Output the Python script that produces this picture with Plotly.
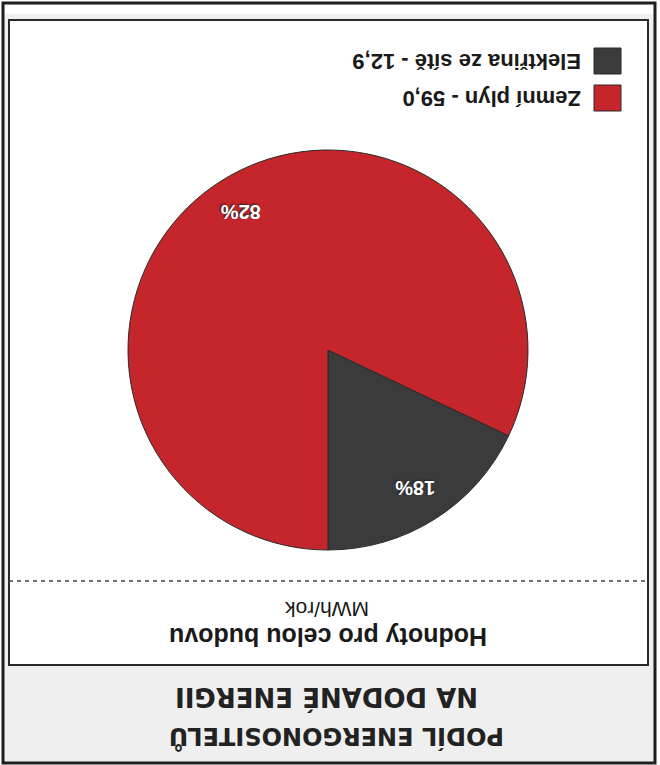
import math
import plotly.graph_objects as go

# ---- data ----
labels = ["Elektřina ze sítě", "Zemní plyn"]
values = [12.9, 59.0]
value_texts = ["12,9", "59,0"]
colors = ["#3b3b3b", "#c4262b"]
title_lines = ["PODÍL ENERGONOSITELŮ", "NA DODANÉ ENERGII"]
subtitle = "Hodnoty pro celou budovu"
unit = "MWh/rok"

W, H = 660, 765


def px(x):
    return x / W


def py(y):
    return 1 - y / H


# pie geometry (pixels) - the whole scanned chart is upside down
cx, cy, R = 328, 350, 200
total = sum(values)
# first slice ends at 6 o'clock going clockwise (i.e. it lies counter-clockwise of 6 o'clock)
start_rot = 180 - 360 * values[0] / total

fig = go.Figure()
fig.add_trace(go.Pie(
    labels=labels,
    values=values,
    marker=dict(colors=colors, line=dict(color="#2a2a2a", width=1)),
    sort=False,
    direction="clockwise",
    rotation=start_rot,
    textinfo="none",
    hoverinfo="label+value+percent",
    showlegend=False,
    domain=dict(x=[px(cx - R), px(cx + R)], y=[py(cy + R), py(cy - R)]),
))

shapes = []
annotations = []

# outer frame and inner box
shapes.append(dict(type="rect", xref="paper", yref="paper",
                   x0=px(3), x1=px(655), y0=py(763), y1=py(3),
                   line=dict(color="#1e1e1e", width=3), fillcolor="#efefef", layer="below"))
shapes.append(dict(type="rect", xref="paper", yref="paper",
                   x0=px(5), x1=px(653), y0=py(14), y1=py(5),
                   line=dict(width=0), fillcolor="#ffffff", layer="below"))
shapes.append(dict(type="rect", xref="paper", yref="paper",
                   x0=px(9), x1=px(648), y0=py(665), y1=py(20),
                   line=dict(color="#2a2a2a", width=2), fillcolor="#ffffff", layer="below"))
# dashed separator
shapes.append(dict(type="line", xref="paper", yref="paper",
                   x0=px(9), x1=px(648), y0=py(581), y1=py(581),
                   line=dict(color="#444444", width=1.5, dash="4px,4px"), layer="below"))

# percentage labels computed from data (angle measured from 6 o'clock towards 3 o'clock)
cum = 0.0
for v in values:
    mid = (cum + v / 2) / total * 2 * math.pi
    cum += v
    lx = cx + 0.82 * R * math.sin(mid)
    ly = cy + 0.82 * R * math.cos(mid)
    annotations.append(dict(
        x=px(lx), y=py(ly), xref="paper", yref="paper",
        text=f"{round(v / total * 100)}%", showarrow=False, textangle=180,
        xanchor="center", yanchor="middle",
        font=dict(family="Liberation Sans, Arial", size=20, color="#ffffff",
                  weight="bold", shadow="1px 1px 2px #222")))

# legend (upside down)
leg_y = [61, 98]
for i, (lab, vt, col) in enumerate(zip(labels, value_texts, colors)):
    yy = leg_y[i]
    shapes.append(dict(type="rect", xref="paper", yref="paper",
                       x0=px(594), x1=px(621), y0=py(yy + 13), y1=py(yy - 13),
                       line=dict(color="#2a2a2a", width=1), fillcolor=col))
    annotations.append(dict(
        x=px(583), y=py(yy), xref="paper", yref="paper",
        text=f"{lab} - {vt}", showarrow=False, textangle=180,
        xanchor="right", yanchor="middle",
        font=dict(family="Liberation Sans, Arial", size=22, color="#1a1a1a", weight="bold")))

# subtitle and unit (upside down)
annotations.append(dict(x=px(328), y=py(637), xref="paper", yref="paper",
                        text=subtitle, showarrow=False, textangle=180,
                        xanchor="center", yanchor="middle",
                        font=dict(family="Liberation Sans, Arial", size=25, color="#1a1a1a", weight="bold")))
annotations.append(dict(x=px(327), y=py(610), xref="paper", yref="paper",
                        text=unit, showarrow=False, textangle=180,
                        xanchor="center", yanchor="middle",
                        font=dict(family="Liberation Sans, Arial", size=21, color="#1a1a1a")))

# title (upside down)
annotations.append(dict(x=px(336), y=py(737), xref="paper", yref="paper",
                        text=title_lines[0], showarrow=False, textangle=180,
                        xanchor="center", yanchor="middle",
                        font=dict(family="DejaVu Sans", size=24, color="#222222", weight="bold")))
annotations.append(dict(x=px(327), y=py(698), xref="paper", yref="paper",
                        text=title_lines[1], showarrow=False, textangle=180,
                        xanchor="center", yanchor="middle",
                        font=dict(family="DejaVu Sans", size=26, color="#222222", weight="bold")))

fig.update_layout(
    width=W, height=H,
    margin=dict(l=0, r=0, t=0, b=0),
    paper_bgcolor="#ffffff",
    plot_bgcolor="#ffffff",
    shapes=shapes,
    annotations=annotations,
    showlegend=False,
)

fig.write_html("out.html", config={"displayModeBar": False},
               post_script="document.body.style.margin='0px';document.body.style.overflow='hidden';")
